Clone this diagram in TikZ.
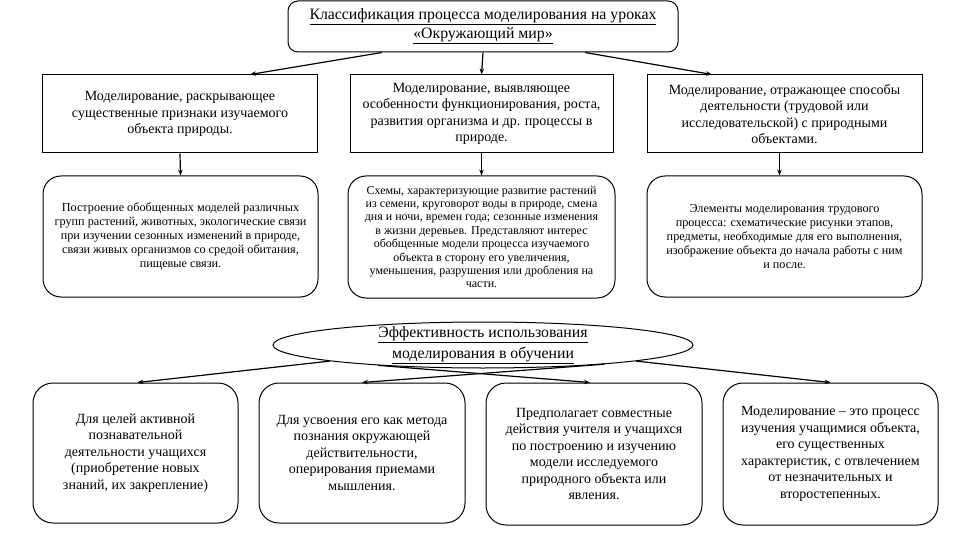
\documentclass[tikz,border=0pt]{standalone}
\usepackage{fontspec}
\setmainfont{Liberation Serif}
\usetikzlibrary{shapes.geometric,arrows.meta,calc}
\begin{document}
\begin{tikzpicture}[x=1pt,y=-1pt,
  box/.style={draw,line width=1pt,inner sep=0pt,align=center},
  rbox/.style={box,rounded corners=18pt},
  midfont/.style={font=\fontsize{14}{16.3}\selectfont},
  botfont/.style={font=\fontsize{14}{16.5}\selectfont},
  smallfont/.style={font=\fontsize{12.2}{14}\selectfont},
  arr/.style={line width=1.2pt,-{Stealth[length=6pt,width=4.5pt]}}]
\useasboundingbox (0,0) rectangle (960,540);
\fill[white] (0,0) rectangle (960,540);

% title
\node[box,rounded corners=10pt,minimum width=390pt,minimum height=51pt,
  font=\fontsize{15.8}{19}\selectfont] (title) at (483,26.5)
  {\underline{Классификация процесса моделирования на уроках}\\\underline{«Окружающий мир»}};

% row 2
\node[box,midfont,minimum width=275pt,minimum height=78pt] (A) at (180,114)
  {Моделирование, раскрывающее\\существенные признаки изучаемого\\объекта природы.};
\node[box,midfont,minimum width=263pt,minimum height=78pt] (B) at (481.5,114)
  {Моделирование, выявляющее\\особенности функционирования, роста,\\развития организма и др. процессы в\\природе.};
\node[box,midfont,minimum width=275pt,minimum height=78pt] (C) at (784.5,114)
  {Моделирование, отражающее способы\\деятельности (трудовой или\\исследовательской) с природными\\объектами.};

% row 3
\node[rbox,smallfont,minimum width=275pt,minimum height=121pt] (D) at (180.5,236.5)
  {Построение обобщенных моделей различных\\групп растений, животных, экологические связи\\при изучении сезонных изменений в природе,\\связи живых организмов со средой обитания,\\пищевые связи.};
\node[rbox,font=\fontsize{12}{13.4}\selectfont,minimum width=267pt,minimum height=122pt] (E) at (481.5,237)
  {Схемы, характеризующие развитие растений\\из семени, круговорот воды в природе, смена\\дня и ночи, времен года; сезонные изменения\\в жизни деревьев. Представляют интерес\\обобщенные модели процесса изучаемого\\объекта в сторону его увеличения,\\уменьшения, разрушения или дробления на\\части.};
\node[rbox,smallfont,minimum width=275pt,minimum height=121pt] (F) at (784.5,236.5)
  {Элементы моделирования трудового\\процесса: схематические рисунки этапов,\\предметы, необходимые для его выполнения,\\изображение объекта до начала работы с ним\\и после.};

% ellipse
\node[draw,line width=1pt,ellipse,minimum width=420pt,minimum height=46pt,inner sep=0pt] (ell) at (483,345) {};
\node[align=center,inner sep=0pt,font=\fontsize{15.8}{21}\selectfont] (elltext) at (ell.center)
  {\underline{Эффективность использования}\\\underline{моделирования в обучении}};

% bottom row
\node[rbox,botfont,rounded corners=20pt,minimum width=205pt,minimum height=140pt] (P) at (135.5,453)
  {Для целей активной\\познавательной\\деятельности учащихся\\(приобретение новых\\знаний, их закрепление)};
\node[rbox,botfont,rounded corners=20pt,minimum width=206pt,minimum height=140pt] (Q) at (362,453)
  {Для усвоения его как метода\\познания окружающей\\действительности,\\оперирования приемами\\мышления.};
\node[rbox,botfont,rounded corners=20pt,minimum width=216pt,minimum height=142pt] (R) at (594,454)
  {Предполагает совместные\\действия учителя и учащихся\\по построению и изучению\\модели исследуемого\\природного объекта или\\явления.};
\node[rbox,botfont,rounded corners=20pt,minimum width=215pt,minimum height=142pt] (S) at (830.5,454)
  {Моделирование – это процесс\\изучения учащимися объекта,\\его существенных\\характеристик, с отвлечением\\от незначительных и\\второстепенных.};

% connectors
\draw[arr] ($(title.south)+(-101,0)$) -- ($(A.north)+(70,0)$);
\draw[arr] (title.south) -- (B.north);
\draw[arr] ($(title.south)+(102,0)$) -- ($(C.north)+(-72.5,0)$);
\draw[arr] (A.south) -- (D.north);
\draw[arr] (B.south) -- (E.north);
\draw[arr] ($(C.south)+(-5,0)$) -- ($(F.north)+(-5,0)$);

\draw[arr] (ell.186) -- ($(P.north)+(2,0)$);
\draw[arr] (ell.351) -- (Q.north);
\draw[arr] (ell.191) -- ($(R.north)+(-4,0)$);
\draw[arr] (ell.354.5) -- (S.north);
\end{tikzpicture}
\end{document}
